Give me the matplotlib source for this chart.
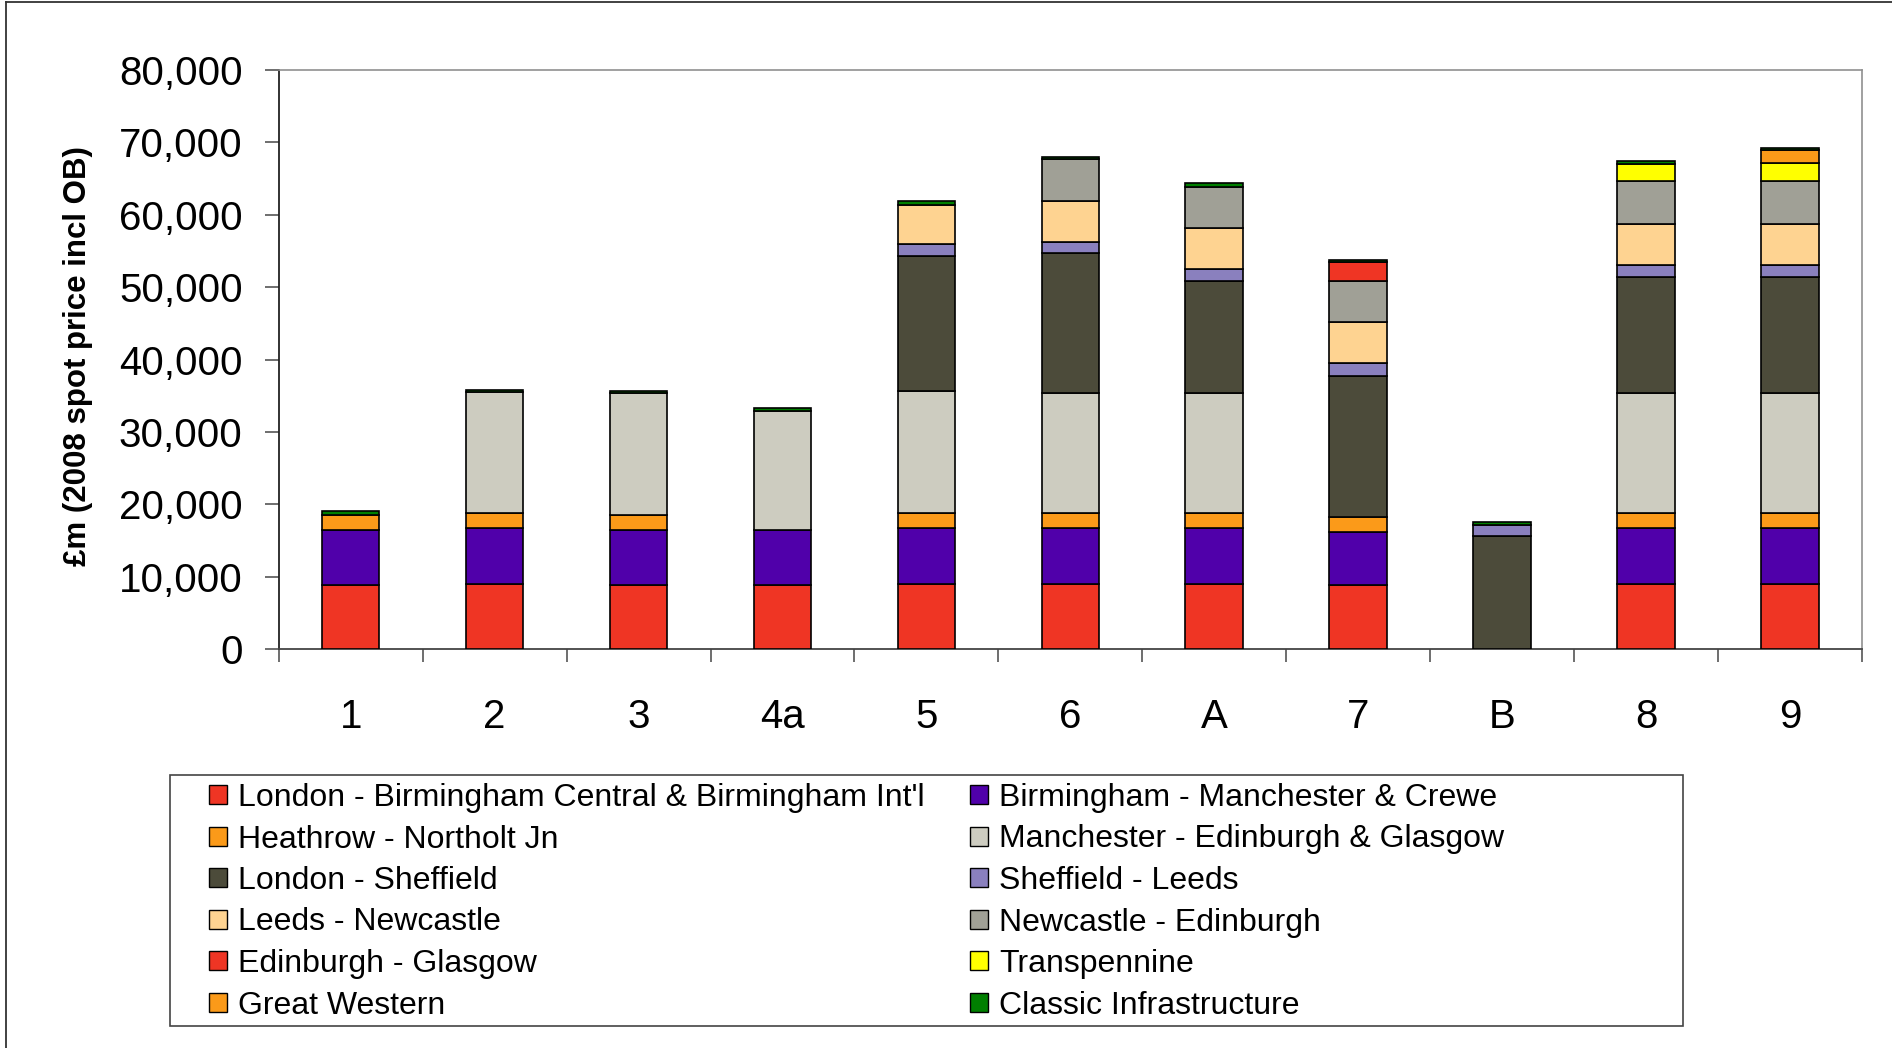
import numpy as np
import matplotlib
matplotlib.use("Agg")
import matplotlib.pyplot as plt
from matplotlib.patches import Rectangle, Patch
from matplotlib.lines import Line2D

plt.rcParams['font.family'] = ['Liberation Sans', 'DejaVu Sans']

# scenarios on the x axis
categories = ['1', '2', '3', '4a', '5', '6', 'A', '7', 'B', '8', '9']

# cost per section, £m
london_birmingham = [8800, 9050, 8800, 8800, 9050, 9050, 9050, 8800, 0, 9050, 9050]
birmingham_manchester = [7600, 7600, 7600, 7600, 7600, 7600, 7600, 7350, 0, 7600, 7600]
heathrow_northolt = [2150, 2150, 2150, 0, 2150, 2150, 2150, 2100, 0, 2150, 2150]
manchester_edinburgh = [0, 16650, 16800, 16550, 16850, 16600, 16600, 0, 0, 16600, 16600]
london_sheffield = [0, 0, 0, 0, 18700, 19250, 15450, 19500, 15550, 16050, 16050]
sheffield_leeds = [0, 0, 0, 0, 1620, 1650, 1650, 1700, 1600, 1600, 1600]
leeds_newcastle = [0, 0, 0, 0, 5400, 5650, 5700, 5700, 0, 5700, 5700]
newcastle_edinburgh = [0, 0, 0, 0, 0, 5700, 5700, 5650, 0, 5850, 5850]
edinburgh_glasgow = [0, 0, 0, 0, 0, 0, 0, 2650, 0, 0, 0]
transpennine = [0, 0, 0, 0, 0, 0, 0, 0, 0, 2450, 2500]
great_western = [0, 0, 0, 0, 0, 0, 0, 0, 0, 0, 1800]
classic_infra = [500, 300, 300, 300, 550, 300, 550, 280, 350, 350, 320]

series = [
    ("London - Birmingham Central & Birmingham Int'l", london_birmingham, '#EF3524'),
    ("Birmingham - Manchester & Crewe", birmingham_manchester, '#5000AA'),
    ("Heathrow - Northolt Jn", heathrow_northolt, '#FB9A19'),
    ("Manchester - Edinburgh & Glasgow", manchester_edinburgh, '#CDCCC0'),
    ("London - Sheffield", london_sheffield, '#4C4B3A'),
    ("Sheffield - Leeds", sheffield_leeds, '#8A80BE'),
    ("Leeds - Newcastle", leeds_newcastle, '#FED391'),
    ("Newcastle - Edinburgh", newcastle_edinburgh, '#A0A096'),
    ("Edinburgh - Glasgow", edinburgh_glasgow, '#EF3524'),
    ("Transpennine", transpennine, '#FFFF00'),
    ("Great Western", great_western, '#FB9A19'),
    ("Classic Infrastructure", classic_infra, '#007F00'),
]

W, H = 1892, 1048
fig = plt.figure(figsize=(W / 100, H / 100), dpi=100)
ax = fig.add_axes([278.7 / W, 1 - 649 / H, (1862 - 278.7) / W, (649 - 70) / H])

x = np.arange(len(categories))
bottom = np.zeros(len(categories))
for name, vals, col in series:
    vals = np.array(vals, dtype=float)
    m = vals > 0
    ax.bar(x[m], vals[m], 0.4, bottom=bottom[m], color=col,
           edgecolor='black', linewidth=1.2, zorder=3)
    bottom += vals

ax.set_xlim(-0.5, len(categories) - 0.5)
ax.set_ylim(0, 80000)
ax.set_yticks(np.arange(0, 80001, 10000))
ax.yaxis.set_major_formatter(matplotlib.ticker.FuncFormatter(lambda v, p: f"{int(v):,}"))
ax.tick_params(axis='y', direction='out', length=10, width=1.2, color='#555555',
               pad=16, labelsize=29)

ax.set_xticks(x)
ax.set_xticklabels(categories)
ax.set_xticks(np.arange(-0.5, len(categories)), minor=True)
ax.tick_params(axis='x', which='major', length=0, pad=35, labelsize=29)
ax.tick_params(axis='x', which='minor', direction='out', length=9, width=1.2, color='#555555')

for s in ['top', 'right']:
    ax.spines[s].set_color('#909090')
    ax.spines[s].set_linewidth(1.2)
ax.spines['left'].set_color('#222222')
ax.spines['bottom'].set_color('#444444')
ax.spines['left'].set_linewidth(1.3)
ax.spines['bottom'].set_linewidth(1.3)

fig.text(78 / W, 1 - 356 / H, "£m (2008 spot price incl OB)", rotation=90,
         ha='center', va='center', fontsize=22.5, fontweight='bold')

# legend: row-wise order like the original, frame drawn separately
handles = [Patch(facecolor=c, edgecolor='black', linewidth=1.0) for _, _, c in series]
labels = [n for n, _, _ in series]
order = list(range(0, 12, 2)) + list(range(1, 12, 2))
leg = fig.legend([handles[i] for i in order], [labels[i] for i in order],
                 ncol=2, loc='upper left', bbox_to_anchor=(209 / W, 1 - 783 / H),
                 frameon=False, borderpad=0, borderaxespad=0,
                 handlelength=0.55, handleheight=0.55, handletextpad=0.35,
                 labelspacing=0.36, columnspacing=1.43,
                 prop={'family': ['Liberation Sans'], 'size': 23})
fig.patches.append(Rectangle((170 / W, 1 - 1026 / H), (1683 - 170) / W, (1026 - 775) / H,
                             transform=fig.transFigure, facecolor='none',
                             edgecolor='#444444', linewidth=1.2))

# outer chart border (left and top visible)
fig.add_artist(Line2D([6 / W, 6 / W], [0, 1 - 2 / H], transform=fig.transFigure,
                      color='#333333', linewidth=1.3))
fig.add_artist(Line2D([6 / W, 1], [1 - 2 / H, 1 - 2 / H], transform=fig.transFigure,
                      color='#333333', linewidth=1.3))

fig.savefig("out.png", dpi=100)
